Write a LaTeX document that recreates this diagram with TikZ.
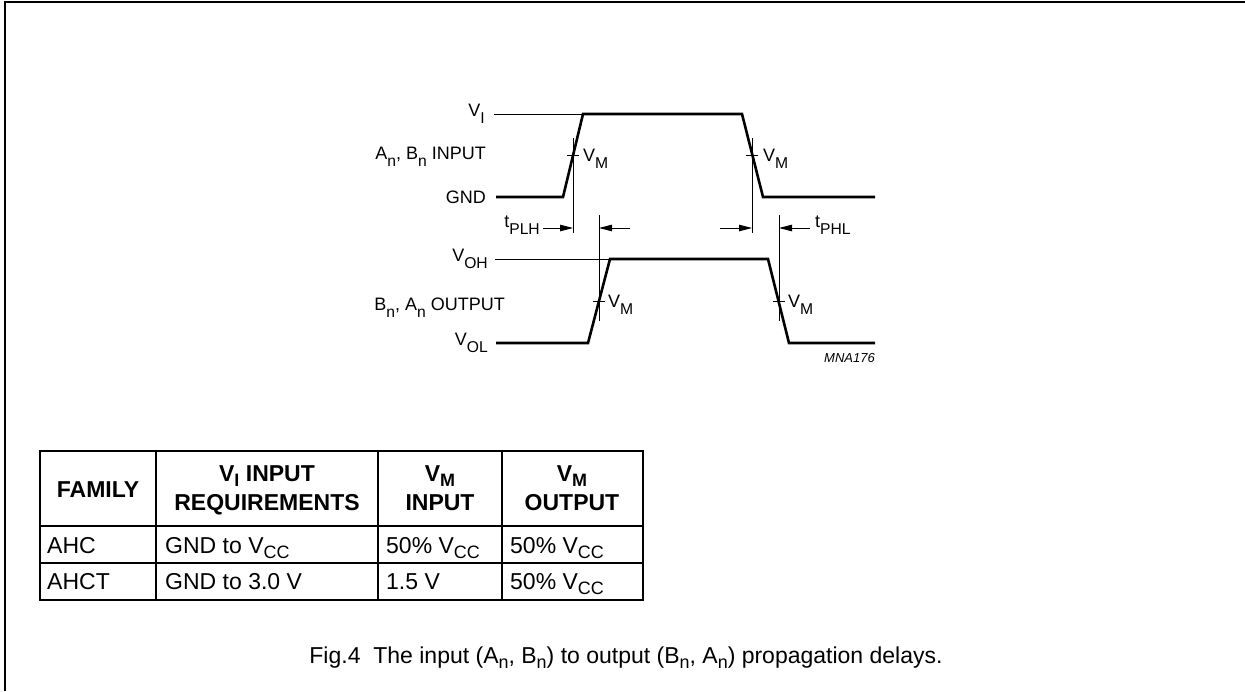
\documentclass[tikz,border=0pt]{standalone}
\usepackage{fontspec}
\setmainfont{Liberation Sans}
\usetikzlibrary{arrows.meta}
\newcommand\lo[1]{\raisebox{-0.4em}{\scalebox{0.87}{#1}}}
\newcommand\tlo[1]{\raisebox{-0.22em}{\scalebox{0.78}{#1}}}
\begin{document}
\begin{tikzpicture}[x=1pt,y=-1pt,
  wave/.style={line width=2.6pt, line join=miter},
  thinln/.style={line width=0.9pt},
  tick/.style={line width=0.9pt},
  arr/.style={-{Triangle[length=13pt,width=6.5pt]}, line width=0.9pt},
  lbl/.style={font=\fontsize{18}{20}\selectfont, inner sep=0pt},
  tabhead/.style={font=\fontsize{23}{26}\selectfont\bfseries, inner sep=0pt, align=center},
  tabcell/.style={font=\fontsize{23}{26}\selectfont, inner sep=0pt, anchor=base west},
  grid/.style={line width=1.3pt},
  frame/.style={line width=2pt}]
\useasboundingbox (0,0) rectangle (1245,691);
% frame
\draw[frame] (5,691) -- (5,2) -- (1245,2);

% ---------- input waveform ----------
\coordinate (i0) at (496,197);
\coordinate (i1) at (563,197);
\coordinate (i2) at (583,114);
\coordinate (i3) at (742,114);
\coordinate (i4) at (763,197);
\coordinate (i5) at (875,197);
\draw[wave] (i0) -- (i1) -- (i2) -- (i3) -- (i4) -- (i5);
\coordinate (vil) at (494,114);
\draw[thinln] (vil) -- (i2);

% ---------- output waveform ----------
\coordinate (o0) at (496,343);
\coordinate (o1) at (588,343);
\coordinate (o2) at (610,259);
\coordinate (o3) at (768,259);
\coordinate (o4) at (789,343);
\coordinate (o5) at (875,343);
\draw[wave] (o0) -- (o1) -- (o2) -- (o3) -- (o4) -- (o5);
\coordinate (vohl) at (495,259);
\draw[thinln] (vohl) -- (o2);

% ---------- reference verticals ----------
\coordinate (va1) at (573,138); \coordinate (va2) at (573,233);
\coordinate (vb1) at (752,138); \coordinate (vb2) at (752,233);
\coordinate (vc1) at (599,215); \coordinate (vc2) at (599,321);
\coordinate (vd1) at (779,215); \coordinate (vd2) at (779,321);
\draw[thinln] (va1) -- (va2);
\draw[thinln] (vb1) -- (vb2);
\draw[thinln] (vc1) -- (vc2);
\draw[thinln] (vd1) -- (vd2);
% V_M ticks
\draw[tick] (567,155) -- (579,155);
\draw[tick] (746,155) -- (758,155);
\draw[tick] (593,301) -- (605,301);
\draw[tick] (773,301) -- (785,301);

% ---------- timing arrows ----------
\coordinate (a1) at (543,228); \coordinate (a1t) at (573,228);
\coordinate (a2) at (630,228); \coordinate (a2t) at (599,228);
\coordinate (a3) at (720,228); \coordinate (a3t) at (752,228);
\coordinate (a4) at (810,228); \coordinate (a4t) at (779,228);
\draw[arr] (a1) -- (a1t);
\draw[arr] (a2) -- (a2t);
\draw[arr] (a3) -- (a3t);
\draw[arr] (a4) -- (a4t);

% ---------- labels ----------
\node[lbl, anchor=east] (lvi) at (485,114) {V\lo{I}};
\node[lbl, anchor=base east] (lin) at (486,159) {A\lo{n}, B\lo{n} INPUT};
\node[lbl, anchor=east] (lgnd) at (486,197) {GND};
\node[lbl, anchor=base east] (ltplh) at (540,227) {t\lo{PLH}};
\node[lbl, anchor=base west] (ltphl) at (815,227) {t\lo{PHL}};
\node[lbl, anchor=base west] (lvm1) at (583,161) {V\lo{M}};
\node[lbl, anchor=base west] (lvm2) at (763,161) {V\lo{M}};
\node[lbl, anchor=base west] (lvm3) at (608,307) {V\lo{M}};
\node[lbl, anchor=base west] (lvm4) at (788,307) {V\lo{M}};
\node[lbl, anchor=east] (lvoh) at (488,259) {V\lo{OH}};
\node[lbl, anchor=base east] (lout) at (505,310) {B\lo{n}, A\lo{n} OUTPUT};
\node[lbl, anchor=east] (lvol) at (488,343) {V\lo{OL}};
\node[font=\fontsize{13}{15}\selectfont\itshape, inner sep=0pt, anchor=base east] (code) at (875,362) {MNA176};

% ---------- table ----------
\draw[grid] (40,451) rectangle (643,600);
\draw[grid] (40,526) -- (643,526);
\draw[grid] (40,563) -- (643,563);
\draw[grid] (156,451) -- (156,600);
\draw[grid] (378,451) -- (378,600);
\draw[grid] (502,451) -- (502,600);
\node[tabhead, anchor=base] (h1) at (98,497) {FAMILY};
\node[tabhead, anchor=base] (h2a) at (267,481) {V\tlo{I} INPUT};
\node[tabhead, anchor=base] (h2b) at (267,510) {REQUIREMENTS};
\node[tabhead, anchor=base] (h3a) at (440,481) {V\tlo{M}};
\node[tabhead, anchor=base] (h3b) at (440,510) {INPUT};
\node[tabhead, anchor=base] (h4a) at (572,481) {V\tlo{M}};
\node[tabhead, anchor=base] (h4b) at (572,510) {OUTPUT};
\node[tabcell] (c11) at (47,553) {AHC};
\node[tabcell] (c12) at (165,553) {GND to V\tlo{CC}};
\node[tabcell] (c13) at (386,553) {50\% V\tlo{CC}};
\node[tabcell] (c14) at (510,553) {50\% V\tlo{CC}};
\node[tabcell] (c21) at (47,589) {AHCT};
\node[tabcell] (c22) at (165,589) {GND to 3.0 V};
\node[tabcell] (c23) at (386,589) {1.5 V};
\node[tabcell] (c24) at (510,589) {50\% V\tlo{CC}};

% ---------- caption ----------
\node[font=\fontsize{23}{26}\selectfont, inner sep=0pt, anchor=base] (cap) at (626,663)
  {Fig.4\ \ The input (A\tlo{n}, B\tlo{n}) to output (B\tlo{n}, A\tlo{n}) propagation delays.};
\end{tikzpicture}
\end{document}
